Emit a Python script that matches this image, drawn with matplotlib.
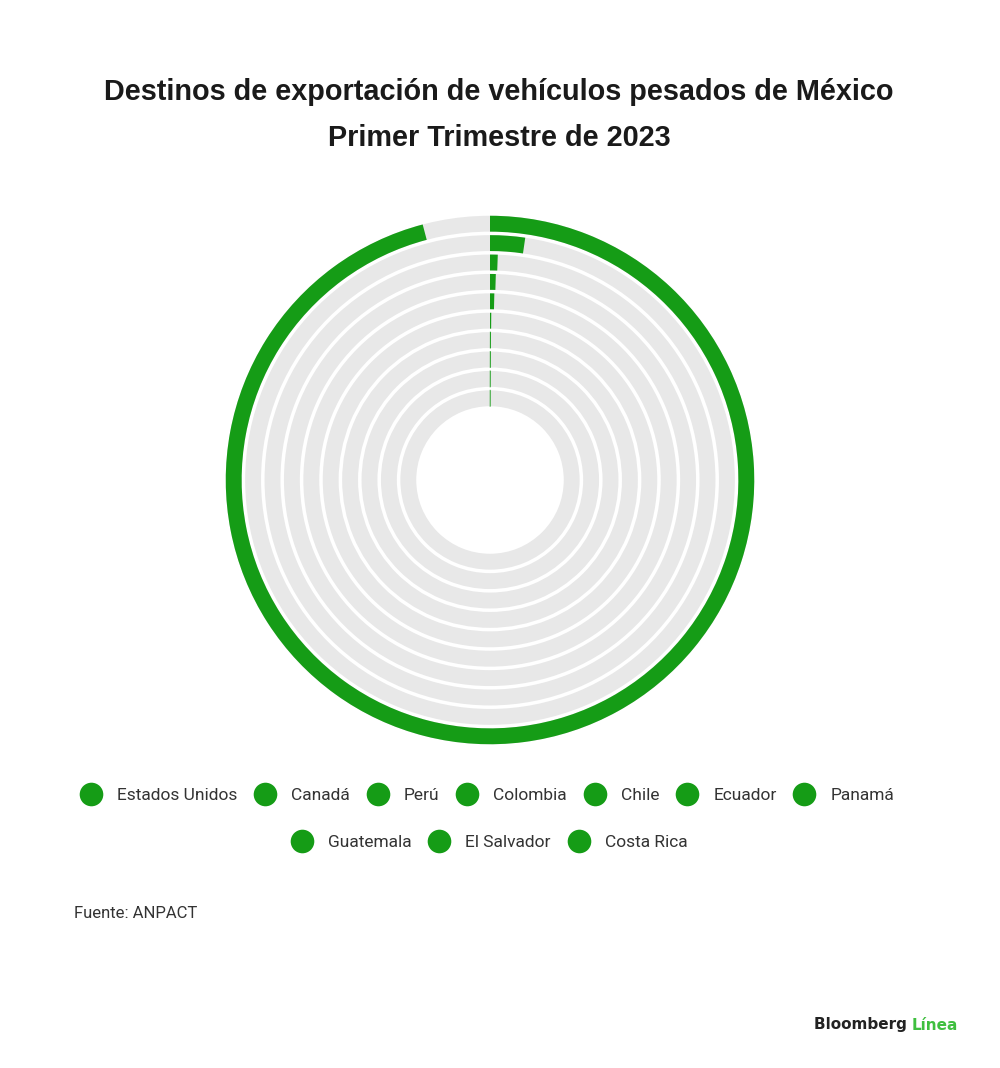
import matplotlib
matplotlib.use('Agg')
import matplotlib.pyplot as plt
from matplotlib.lines import Line2D
import numpy as np

# data (share of exports, %)
paises = ['Estados Unidos', 'Canadá', 'Perú', 'Colombia', 'Chile',
          'Ecuador', 'Panamá', 'Guatemala', 'El Salvador', 'Costa Rica']
porcentaje = [95.9, 2.3, 0.55, 0.45, 0.37, 0.12, 0.09, 0.08, 0.07, 0.07]
total = 100.0

verde = '#159c16'
gris = '#e8e8e8'

fig = plt.figure(figsize=(10, 10.68), dpi=100)

# polar axes placed so the centre sits at (490, 480) px with radius 266 px
R = 266.0
cx, cy = 490.0, 480.0
W, H = 1000.0, 1068.0
ax = fig.add_axes([(cx - R) / W, (H - cy - R) / H, 2 * R / W, 2 * R / H],
                  projection='polar')
ax.set_theta_zero_location('N')
ax.set_theta_direction(-1)
ax.set_ylim(0, R)
ax.axis('off')

r_in = 72.0
paso = (R - r_in) / len(paises)
grosor = paso - 3.5

for i, (p, v) in enumerate(zip(paises, porcentaje)):
    r0 = R - (i + 1) * paso + 1.75
    ax.bar(0, grosor, width=2 * np.pi, bottom=r0, align='edge',
           color=gris, edgecolor='none')
    ang = 2 * np.pi * v / total
    ax.bar(0, grosor, width=ang, bottom=r0, align='edge',
           color=verde, edgecolor='none', linewidth=0)
    if ang < 0.006:
        ax.plot([ang / 2, ang / 2], [r0, r0 + grosor], color=verde,
                lw=0.8, alpha=0.6)

titulo = dict(ha='center', va='center', fontsize=20.8, fontweight='bold',
              family='Liberation Sans', color='#1a1a1a')
fig.text(0.499, 1 - 92 / H, 'Destinos de exportación de vehículos pesados de México', **titulo)
fig.text(0.499, 1 - 138 / H, 'Primer Trimestre de 2023', **titulo)

def handles(nombres):
    return [Line2D([], [], marker='o', ls='none', markersize=17,
                   markerfacecolor=verde, markeredgecolor='none', label=n)
            for n in nombres]

fuente_ley = {'family': 'Roboto', 'size': 12.5}
fig.legend(handles=handles(paises[:7]), ncol=7, loc='center',
           bbox_to_anchor=(0.484, 1 - 795 / H), frameon=False,
           prop=fuente_ley, handletextpad=0.5, columnspacing=0.6,
           labelcolor='#333333')
fig.legend(handles=handles(paises[7:]), ncol=3, loc='center',
           bbox_to_anchor=(0.486, 1 - 842 / H), frameon=False,
           prop=fuente_ley, handletextpad=0.5, columnspacing=0.6,
           labelcolor='#333333')

fig.text(74 / W, 1 - 914 / H, 'Fuente: ANPACT', ha='left', va='center',
         fontsize=12, family='Roboto', color='#333333')

fig.text(912 / W, 1 - 1025 / H, 'Bloomberg ', ha='right', va='center',
         fontsize=11, fontweight='bold', family='DejaVu Sans', color='#222222')
fig.text(912 / W, 1 - 1025 / H, 'Línea', ha='left', va='center',
         fontsize=11, fontweight='bold', family='DejaVu Sans', color='#3fbf3f')

fig.savefig('out.png', dpi=100, facecolor='white')
